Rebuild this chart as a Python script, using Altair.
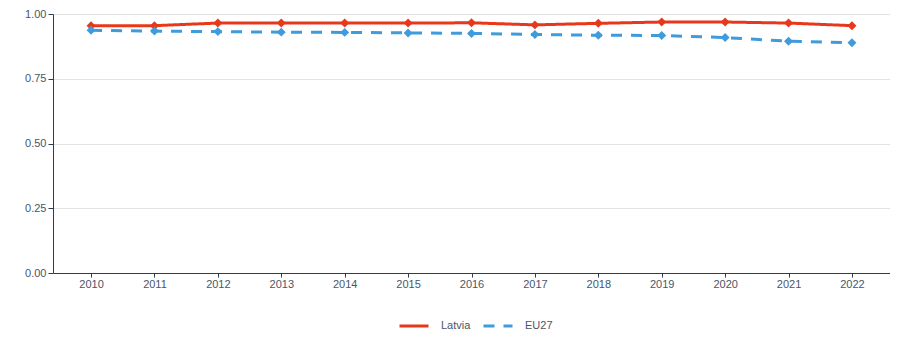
import altair as alt
import pandas as pd

years = [str(y) for y in range(2010, 2023)]
latvia = [0.955, 0.955, 0.965, 0.965, 0.965, 0.965, 0.966, 0.958, 0.964, 0.969, 0.969, 0.965, 0.955]
eu27 = [0.937, 0.934, 0.932, 0.930, 0.929, 0.927, 0.925, 0.921, 0.918, 0.917, 0.909, 0.895, 0.889]
series = ["Latvia", "EU27"]
colors = ["#e8381b", "#3f9bdb"]

rows = []
for name, vals in zip(series, [latvia, eu27]):
    for y, v in zip(years, vals):
        rows.append({"year": y, "value": v, "series": name})
df = pd.DataFrame(rows)

color_scale = alt.Scale(domain=series, range=colors)
dash_scale = alt.Scale(domain=series, range=[[1, 0], [11, 9]])

x = alt.X("year:O", scale=alt.Scale(type="point", padding=0.6),
          axis=alt.Axis(title=None, labelAngle=0, grid=False, domainColor="#2c3e50",
                        tickColor="#2c3e50", tickSize=4, labelPadding=1))
y = alt.Y("value:Q", scale=alt.Scale(domain=[0, 1]),
          axis=alt.Axis(title=None, values=[0, 0.25, 0.5, 0.75, 1.0], format=".2f",
                        domainColor="#2c3e50", tickColor="#2c3e50", tickSize=5,
                        gridColor="#e3e3e3", labelPadding=2))

lines = alt.Chart(df).mark_line(strokeWidth=3).encode(
    x=x, y=y,
    color=alt.Color("series:N", scale=color_scale,
                    legend=alt.Legend(title=None, orient="none", legendX=345, legendY=296,
                                      direction="horizontal", symbolType="stroke",
                                      symbolSize=841, symbolStrokeWidth=3,
                                      labelFontSize=11, labelColor="#4a5568",
                                      labelOffset=11, columnPadding=6)),
    strokeDash=alt.StrokeDash("series:N", scale=dash_scale, legend=None),
)
points = alt.Chart(df).mark_point(shape="diamond", filled=True, size=80, opacity=1).encode(
    x=x, y=y,
    color=alt.Color("series:N", scale=color_scale, legend=None),
)

chart = alt.layer(lines, points).properties(
    width=837, height=259,
    padding={"left": 45, "top": 6, "right": 0, "bottom": 70},
    autosize=alt.AutoSizeParams(type="none"),
).configure_view(stroke=None).configure_axis(
    labelFont="Liberation Sans", labelFontSize=11, labelColor="#4a5568"
).configure_legend(labelFont="Liberation Sans")

chart.save("out.html", embed_options={"renderer": "svg", "actions": False})
